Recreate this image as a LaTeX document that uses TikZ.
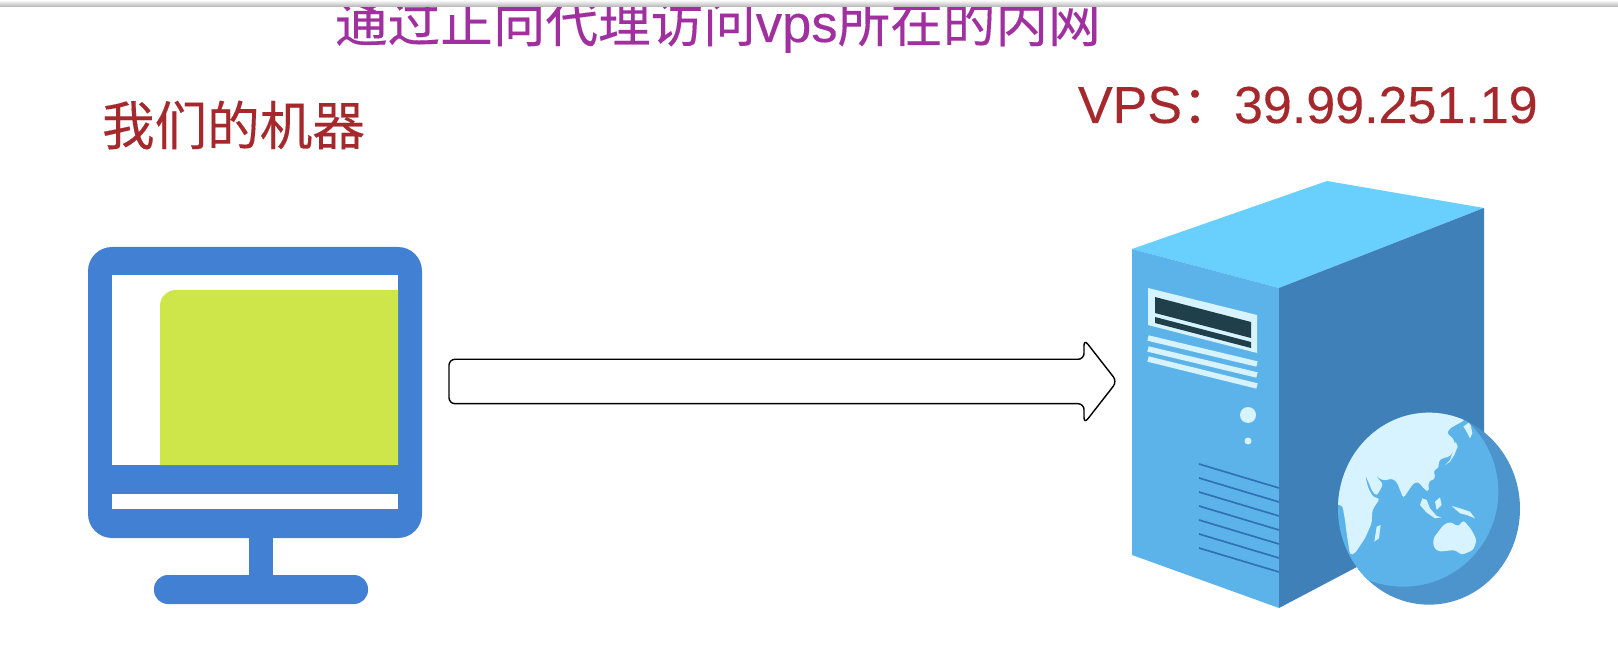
\documentclass[tikz,border=0pt]{standalone}
\usepackage{fontspec}
\usetikzlibrary{shapes.arrows}
\setmainfont[FakeBold=0.25]{Liberation Sans}
\newfontfamily\cjk[FakeBold=0.25]{Noto Sans CJK SC}
\newlength{\du}
\setlength{\du}{0.5pt}
\definecolor{screenblue}{HTML}{4280D3}
\definecolor{screengreen}{HTML}{CFE64A}
\definecolor{labelred}{HTML}{A5282C}
\definecolor{titlepurple}{HTML}{A0309F}
\definecolor{servertop}{HTML}{69D0FD}
\definecolor{serverfront}{HTML}{5CB3EA}
\definecolor{serverside}{HTML}{3F80B8}
\definecolor{serverpale}{HTML}{D6F3FF}
\definecolor{serverdark}{HTML}{1F3F4A}
\definecolor{servervent}{HTML}{2F72B5}
\definecolor{globedark}{HTML}{4C94CB}
\tikzset{
  labeltext/.style={anchor=base west,inner sep=0pt,outer sep=0pt,font=\fontsize{26.3pt}{30pt}\selectfont},
  blockarrow/.style={draw=black,fill=white,line width=1.4\du,single arrow,single arrow tip angle=104,
    single arrow head extend=20\du,inner xsep=0pt,inner ysep=21.5\du,outer sep=0pt,anchor=tail,
    minimum height=668\du,minimum width=83\du,rounded corners=6\du},
  panelstripe/.style={draw=serverpale,line width=5.5\du},
  ventline/.style={draw=servervent,line width=1.7\du}
}
\begin{document}
\begin{tikzpicture}
\pgftransformxscale{1.000000}
\pgftransformyscale{-1.000000}
\useasboundingbox (0\du,0\du) rectangle (1618\du,663\du);
% labels
\node[labeltext,text=titlepurple] (title) at (335\du,42\du){{\cjk 通过正向代理访问}vps{\cjk 所在的内网}};
\node[labeltext,text=labelred] (ourlabel) at (102\du,145\du){\cjk 我们的机器};
\node[labeltext,text=labelred,font=\fontsize{26pt}{30pt}\selectfont] (vpslabel) at (1078\du,123\du){VPS{\cjk ：}39.99.251.19};
% monitor
\fill[screenblue,rounded corners=24\du] (88\du,247\du) rectangle (422\du,538\du);
\fill[screenblue] (249\du,530\du) rectangle (273\du,580\du);
\fill[screenblue,rounded corners=14\du] (154\du,575\du) rectangle (368\du,604\du);
\fill[white] (112\du,275\du) rectangle (398\du,465\du);
\fill[white] (112\du,494\du) rectangle (398\du,509\du);
\fill[screengreen] (160\du,465\du)--(160\du,306\du) .. controls (160\du,297\du) and (167\du,290\du) .. (176\du,290\du)--(398\du,290\du)--(398\du,465\du)--cycle;
% arrow
\node[blockarrow] (proxyarrow) at (449\du,381.5\du){};
% server
\fill[servertop] (1327\du,181\du)--(1484\du,208\du)--(1279\du,288\du)--(1132\du,249\du)--cycle;
\fill[serverfront] (1132\du,249\du)--(1279\du,288\du)--(1279\du,608\du)--(1132\du,555\du)--cycle;
\fill[serverside] (1279\du,288\du)--(1484\du,208\du)--(1484\du,500\du)--(1279\du,608\du)--cycle;
\fill[serverpale] (1148\du,288\du)--(1257\du,315\du)--(1257\du,353\du)--(1148\du,325\du)--cycle;
\fill[serverdark] (1155\du,297\du)--(1251\du,322\du)--(1251\du,338\du)--(1155\du,313\du)--cycle;
\fill[serverdark] (1155\du,317\du)--(1251\du,342\du)--(1251\du,348\du)--(1155\du,323\du)--cycle;
\draw[panelstripe] (1148\du,338\du)--(1257\du,364\du);
\draw[panelstripe] (1148\du,349\du)--(1257\du,375\du);
\draw[panelstripe] (1148\du,359\du)--(1257\du,386\du);
\fill[serverpale] (1248\du,415\du) circle (8\du);
\fill[serverpale] (1248\du,441\du) circle (3.5\du);
\draw[ventline] (1199\du,464\du)--(1279\du,488\du);
\draw[ventline] (1199\du,478\du)--(1279\du,502\du);
\draw[ventline] (1199\du,492\du)--(1279\du,516\du);
\draw[ventline] (1199\du,506\du)--(1279\du,530\du);
\draw[ventline] (1199\du,520\du)--(1279\du,544\du);
\draw[ventline] (1199\du,534\du)--(1279\du,558\du);
\draw[ventline] (1199\du,548\du)--(1279\du,572\du);
% globe
\begin{scope}[shift={(1335\du,410\du)},scale=0.33333]
\fill[globedark] (282\du,296\du) ellipse [x radius=273\du,y radius=288\du];
\begin{scope}
\clip (282\du,296\du) ellipse [x radius=273\du,y radius=288\du];
\fill[serverfront] (205\du,245\du) circle (285\du);
\clip (205\du,245\du) circle (285\du);
\fill[serverpale,rounded corners=3\du] (390\du,30\du)--(345\du,55\du)--(335\du,70\du)--(355\du,85\du)--(362\du,110\du)--(345\du,140\du)--(320\du,145\du)--(310\du,155\du)--(312\du,175\du)--(295\du,180\du)--(302\du,205\du)--(280\du,215\du)--(282\du,245\du)--(270\du,240\du)--(250\du,215\du)--(235\du,220\du)--(205\du,265\du)--(185\du,215\du)--(170\du,205\du)--(150\du,212\du)--(130\du,205\du)--(118\du,183\du)--(128\du,205\du)--(145\du,222\du)--(125\du,258\du)--(112\du,245\du)--(100\du,215\du)--(90\du,195\du)--(100\du,235\du)--(115\du,262\du)--(135\du,265\du)--(112\du,300\du)--(110\du,340\du)--(90\du,385\du)--(60\du,430\du)--(45\du,435\du)--(35\du,370\du)--(30\du,330\du)--(22\du,285\du)--(-10\du,285\du)--(-20\du,200\du)--(50\du,-20\du)--(390\du,-20\du)--cycle;
\fill[serverpale] (385\du,50\du)--(405\du,35\du)--(412\du,70\du)--(405\du,85\du)--(392\du,60\du)--cycle;
\fill[serverpale] (362\du,95\du)--(355\du,120\du)--(345\du,150\du)--(330\du,165\du)--(345\du,155\du)--(358\du,135\du)--(368\du,110\du)--cycle;
\fill[serverpale] (262\du,265\du)--(275\du,270\du)--(285\du,295\du)--(305\du,318\du)--(320\du,322\du)--(300\du,325\du)--(275\du,308\du)--(255\du,285\du)--cycle;
\fill[serverpale] (300\du,275\du)--(315\du,262\du)--(320\du,285\du)--(305\du,300\du)--cycle;
\fill[serverpale] (350\du,288\du)--(375\du,295\du)--(405\du,305\du)--(420\du,325\du)--(395\du,315\du)--(375\du,310\du)--cycle;
\fill[serverpale,rounded corners=3\du] (295\du,385\du)--(325\du,345\du)--(345\du,335\du)--(370\du,350\du)--(385\du,330\du)--(410\du,360\du)--(425\du,390\du)--(415\du,420\du)--(380\du,435\du)--(360\du,420\du)--(310\du,425\du)--(295\du,410\du)--cycle;
\fill[serverpale] (125\du,350\du)--(137\du,345\du)--(132\du,385\du)--(118\du,395\du)--cycle;
\end{scope}
\end{scope}
% top shadow
\shade[top color=white,bottom color=black!30] (0\du,0\du) rectangle (1618\du,7\du);
\end{tikzpicture}
\end{document}
